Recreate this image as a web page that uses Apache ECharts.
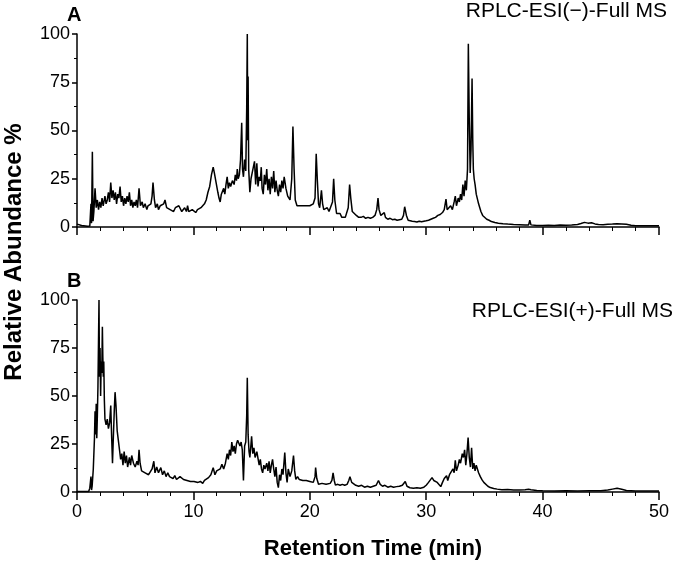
<!DOCTYPE html>
<html lang="en">
<head>
    <meta charset="UTF-8">
    <script src="https://cdn.jsdelivr.net/npm/echarts@6/dist/echarts.min.js"></script>
    <title>Chromatograms</title>
    <style>
        html, body { margin: 0; padding: 0; background: #fff; }
        #main { width: 676px; height: 577px; }
    </style>
</head>
<body>
<div id="main"></div>
<script>
    // panel A: RPLC-ESI(-) full MS, retention time (min) / relative abundance (%)
    var timeA = [0, 0.4, 0.9, 1.1, 1.2, 1.25, 1.32, 1.38, 1.45, 1.55, 1.65, 1.75, 1.85, 1.95, 2.05, 2.15, 2.25, 2.4, 2.5, 2.6,
        2.7, 2.8, 2.9, 3.0, 3.1, 3.2, 3.3, 3.4, 3.5, 3.6, 3.7, 3.8, 3.9, 4.0, 4.1, 4.2, 4.3, 4.4, 4.5, 4.6,
        4.7, 4.8, 4.9, 5.0, 5.1, 5.2, 5.33, 5.45, 5.6, 5.7, 5.85, 6.0, 6.1, 6.2, 6.35, 6.45, 6.53, 6.65, 6.75, 6.9,
        7.0, 7.15, 7.3, 7.45, 7.56, 7.7, 7.85, 8.0, 8.15, 8.3, 8.45, 8.6, 8.75, 8.9, 9.0, 9.1, 9.25, 9.4, 9.5, 9.6,
        9.75, 9.9, 10.05, 10.2, 10.35, 10.5, 10.65, 10.8, 10.95, 11.1, 11.25, 11.4, 11.55, 11.7, 11.8, 11.95, 12.1, 12.2, 12.3, 12.4,
        12.5, 12.6, 12.7, 12.8, 12.9, 13.0, 13.1, 13.2, 13.35, 13.5, 13.6, 13.7, 13.77, 13.85, 13.95, 14.05, 14.15, 14.22, 14.3, 14.4,
        14.5, 14.58, 14.63, 14.67, 14.7, 14.75, 14.85, 14.95, 15.05, 15.15, 15.25, 15.35, 15.45, 15.55, 15.65, 15.75, 15.83, 15.9, 16.0, 16.1,
        16.2, 16.3, 16.4, 16.5, 16.6, 16.7, 16.8, 16.9, 17.0, 17.1, 17.2, 17.3, 17.4, 17.5, 17.6, 17.7, 17.8, 17.87, 17.95, 18.1,
        18.3, 18.45, 18.55, 18.65, 18.75, 18.9, 19.0, 19.15, 19.3, 19.45, 19.6, 19.75, 19.9, 20.0, 20.15, 20.3, 20.45, 20.55, 20.65, 20.75,
        20.85, 21.0, 21.1, 21.2, 21.35, 21.5, 21.65, 21.8, 21.95, 22.05, 22.15, 22.3, 22.45, 22.6, 22.75, 22.9, 23.05, 23.2, 23.3, 23.42,
        23.52, 23.65, 23.8, 24.0, 24.2, 24.4, 24.6, 24.8, 25.0, 25.2, 25.4, 25.6, 25.75, 25.86, 25.95, 26.1, 26.25, 26.4, 26.5, 26.7,
        26.9, 27.1, 27.3, 27.5, 27.7, 27.9, 28.05, 28.15, 28.3, 28.45, 28.6, 28.8, 29.0, 29.2, 29.4, 29.6, 29.8, 30.0, 30.2, 30.4,
        30.6, 30.8, 31.0, 31.2, 31.4, 31.55, 31.7, 31.8, 31.95, 32.1, 32.25, 32.4, 32.5, 32.6, 32.75, 32.85, 32.95, 33.05, 33.15, 33.25,
        33.35, 33.45, 33.55, 33.62, 33.7, 33.78, 33.85, 33.94, 34.0, 34.05, 34.12, 34.2, 34.3, 34.4, 34.5, 34.6, 34.7, 34.85, 35.0, 35.2,
        35.4, 35.6, 35.9, 36.2, 36.6, 37.0, 37.5, 38.0, 38.5, 38.8, 38.9, 39.0, 39.5, 40.0, 40.5, 41.0, 41.5, 42.0, 42.5, 43.0,
        43.3, 43.6, 43.9, 44.2, 44.5, 44.8, 45.2, 45.6, 46.0, 46.4, 46.8, 47.2, 47.6, 48.0, 49.0, 50.0];
    var abundA = [1.5, 0.8, 0.4, 0.5, 12, 2, 39, 3, 8, 20, 10, 14, 9, 13, 10, 15, 11, 16, 12, 14,
        18, 13, 23, 15, 19, 14, 18, 12, 17, 15, 21, 13, 16, 11, 15, 12, 16, 13, 18, 11,
        14, 10, 13, 11, 14, 10, 20, 11, 13, 10, 12, 9, 11, 10, 12, 16, 23, 14, 10, 12,
        9, 11, 10, 12, 14, 10, 11, 9, 10, 8, 10, 9, 11, 12, 8, 7, 10, 8, 11, 8,
        7, 9, 8, 7.5, 9, 8, 10, 9, 12, 14, 18, 21, 27, 31, 28, 23, 18, 15, 13, 17,
        16, 20, 17, 22, 26, 20, 23, 21, 24, 22, 27, 24, 30, 25, 27, 35, 54, 30, 26, 35,
        29, 62, 100, 45, 78, 30, 18, 25, 28, 31, 34, 22, 33, 21, 26, 24, 31, 20, 17, 27,
        22, 30, 19, 25, 17, 26, 20, 29, 18, 24, 19, 16, 22, 18, 24, 20, 26, 27, 20, 16,
        14, 25, 52, 30, 14, 11, 12, 11, 10, 11, 10, 11, 10, 11, 10, 12, 15, 38, 24, 12,
        10, 19, 12, 9, 8, 10, 8, 7, 13, 25, 14, 7, 6, 7, 5, 6, 5, 6, 10, 22,
        15, 8, 7, 6, 5, 5, 5.5, 4.5, 5, 4.5, 5, 6, 9, 15, 9, 6, 5, 7.4, 5, 4,
        4.5, 3.8, 4, 3.5, 3.8, 4, 6, 10.5, 6, 3.5, 3, 3, 2.8, 2.6, 3, 2.7, 3, 3.2, 3.5, 4,
        4.5, 5, 6, 6.5, 7.5, 9, 14.5, 9, 10, 11, 9, 13, 16, 11, 15, 13, 17, 14, 22, 16,
        24, 19, 30, 95, 55, 28, 40, 77, 45, 30, 25, 22, 17, 18, 12, 13, 8, 6, 5, 4,
        3.5, 2.8, 2.3, 2, 1.7, 1.5, 1.3, 1.2, 1.0, 1.1, 3.5, 1.1, 0.8, 0.8, 0.9, 0.8, 1.0, 0.9, 1.0, 1.3,
        1.8, 2.4, 2.0, 2.2, 1.6, 1.3, 1.2, 1.4, 1.5, 1.7, 1.6, 1.4, 0.9, 0.7, 0.7, 0.7];

    // panel B: RPLC-ESI(+) full MS
    var timeB = [0, 0.5, 1.0, 1.1, 1.2, 1.25, 1.3, 1.4, 1.5, 1.55, 1.6, 1.65, 1.7, 1.75, 1.8, 1.85, 1.89, 1.93, 1.98, 2.03,
        2.08, 2.13, 2.18, 2.22, 2.26, 2.3, 2.35, 2.4, 2.5, 2.6, 2.7, 2.8, 2.9, 2.97, 3.05, 3.12, 3.2, 3.27, 3.35, 3.45,
        3.55, 3.65, 3.75, 3.85, 3.95, 4.05, 4.15, 4.25, 4.35, 4.5, 4.6, 4.7, 4.85, 5.0, 5.15, 5.25, 5.33, 5.42, 5.55, 5.7,
        5.85, 6.0, 6.15, 6.3, 6.45, 6.6, 6.7, 6.85, 7.0, 7.2, 7.35, 7.5, 7.65, 7.8, 7.95, 8.1, 8.25, 8.4, 8.55, 8.7,
        8.85, 9.0, 9.15, 9.3, 9.45, 9.6, 9.75, 9.9, 10.05, 10.2, 10.4, 10.6, 10.8, 10.95, 11.1, 11.3, 11.5, 11.7, 11.85, 12.0,
        12.15, 12.3, 12.45, 12.6, 12.75, 12.9, 13.0, 13.1, 13.2, 13.3, 13.4, 13.5, 13.6, 13.7, 13.8, 13.9, 14.0, 14.1, 14.2, 14.3,
        14.4, 14.5, 14.58, 14.63, 14.7, 14.78, 14.85, 14.95, 15.0, 15.1, 15.2, 15.3, 15.45, 15.55, 15.65, 15.75, 15.85, 15.95, 16.05, 16.15,
        16.3, 16.4, 16.5, 16.6, 16.7, 16.8, 16.9, 17.0, 17.1, 17.2, 17.3, 17.4, 17.5, 17.6, 17.7, 17.85, 17.95, 18.05, 18.15, 18.3,
        18.45, 18.6, 18.7, 18.8, 18.95, 19.1, 19.25, 19.4, 19.55, 19.7, 19.85, 20.0, 20.15, 20.3, 20.45, 20.5, 20.6, 20.75, 20.9, 21.05,
        21.2, 21.4, 21.55, 21.75, 21.9, 22.0, 22.1, 22.2, 22.4, 22.6, 22.8, 23.0, 23.2, 23.35, 23.45, 23.6, 23.75, 23.95, 24.2, 24.45,
        24.7, 24.95, 25.2, 25.45, 25.7, 25.9, 26.05, 26.25, 26.45, 26.7, 26.95, 27.2, 27.45, 27.7, 27.95, 28.2, 28.35, 28.6, 28.9, 29.2,
        29.5, 29.8, 30.0, 30.2, 30.35, 30.5, 30.65, 30.8, 30.95, 31.1, 31.25, 31.4, 31.55, 31.75, 31.85, 32.0, 32.15, 32.3, 32.4, 32.5,
        32.6, 32.75, 32.85, 32.95, 33.1, 33.2, 33.3, 33.4, 33.5, 33.6, 33.7, 33.8, 33.9, 34.0, 34.1, 34.2, 34.3, 34.4, 34.5, 34.65,
        34.8, 34.95, 35.1, 35.3, 35.5, 35.8, 36.1, 36.5, 37.0, 37.5, 38.0, 38.5, 38.8, 38.9, 39.0, 39.5, 40.0, 41.0, 42.0, 43.0,
        44.0, 45.0, 45.6, 46.0, 46.4, 46.8, 47.2, 48.0, 49.0, 50.0];
    var abundB = [0.3, 0.3, 0.3, 2, 8, 1, 3, 12, 28, 42, 30, 46, 28, 40, 55, 80, 100, 60, 75, 50,
        68, 62, 86, 70, 60, 68, 48, 38, 35, 38, 33, 36, 45, 30, 15, 28, 42, 52, 45, 32,
        27, 22, 17, 20, 14, 21, 15, 19, 13, 18, 14, 19, 15, 13, 16, 14, 22, 15, 11, 12,
        10, 11, 9, 8, 12, 16, 10, 13, 10, 12.7, 9, 11, 8, 10, 8, 9, 7, 8.5, 6.5, 7.5,
        8, 9, 6.5, 7.5, 6, 7, 5.5, 6.5, 5.5, 6, 5, 5.5, 4.5, 6, 5.5, 7.5, 9, 12.7, 9, 11,
        10, 12, 14.5, 12, 15, 20, 17, 22, 19, 26, 21, 24, 20, 25, 27, 28, 24, 26, 22, 6,
        24, 26, 40, 59.5, 30, 21, 18, 25, 29, 20, 23, 18, 21, 20, 14, 17, 12, 10, 14, 12,
        15, 11, 16, 10, 14, 17, 12, 8, 13, 5, 2.3, 9, 6, 12, 9, 20.5, 10, 5, 12, 8,
        11, 19, 11, 6.6, 8, 6.5, 7.5, 6, 7, 6, 7, 5.5, 6, 5, 8, 12.7, 7, 4, 5, 4.5,
        5.5, 4, 5, 4.5, 6, 10, 6, 3.6, 4, 3.5, 4, 3.5, 4, 6, 8, 5, 4, 3.5, 3, 3.5,
        2.5, 3, 2.5, 3, 3.5, 6, 4, 3, 3.5, 2.5, 3, 2.5, 2.8, 3, 3.5, 5.5, 3, 2.2, 2, 2.2,
        2, 2.5, 3.5, 5, 6, 7.5, 6, 6.5, 5, 4, 2.8, 5, 7, 8.5, 6, 9, 8, 12, 10, 16.5,
        11, 14, 17, 15, 20, 18, 22, 14, 20, 28.3, 18, 13, 23, 12, 15, 11, 14, 13.5, 10, 8,
        6.3, 5, 4, 3, 2.3, 1.8, 1.5, 1.2, 1.3, 1.1, 1.0, 1.2, 1.4, 2.2, 1.2, 0.8, 0.6, 0.5, 0.6, 0.5,
        0.6, 0.7, 1.0, 1.5, 1.9, 1.4, 0.8, 0.5, 0.5, 0.5];

    var yTicks = [0, 25, 50, 75, 100];
    var xTicks = [0, 10, 20, 30, 40, 50];

    function pairs(t, v) {
        var out = [];
        for (var i = 0; i < t.length; i++) out.push([t[i], v[i]]);
        return out;
    }

    var fontName = '"Liberation Sans", Arial, sans-serif';

    function xAx(idx, showLabels) {
        return {
            type: 'value', gridIndex: idx,
            min: xTicks[0], max: xTicks[xTicks.length - 1], interval: 10,
            axisLine: { lineStyle: { color: '#000', width: 1.5 } },
            axisTick: { show: true, length: 8, inside: false, lineStyle: { color: '#000', width: 1.5 } },
            minorTick: { show: true, splitNumber: 5, length: 4, lineStyle: { color: '#000', width: 1 } },
            splitLine: { show: false },
            axisLabel: { show: showLabels, color: '#000', fontSize: 18, fontFamily: fontName, margin: 11 }
        };
    }

    function yAx(idx) {
        return {
            type: 'value', gridIndex: idx,
            min: yTicks[0], max: yTicks[yTicks.length - 1], interval: 25,
            axisLine: { show: true, lineStyle: { color: '#000', width: 1.5 } },
            axisTick: { show: true, length: 5, lineStyle: { color: '#000', width: 1.5 } },
            minorTick: { show: true, splitNumber: 2, length: 3, lineStyle: { color: '#000', width: 1 } },
            splitLine: { show: false },
            axisLabel: { color: '#000', fontSize: 18, fontFamily: fontName, margin: 7 }
        };
    }

    function trace(idx, data) {
        return {
            type: 'line', xAxisIndex: idx, yAxisIndex: idx,
            data: data, showSymbol: false, symbol: 'none',
            lineStyle: { color: '#000', width: 1.5 },
            clip: true
        };
    }

    var myChart = echarts.init(document.getElementById('main'), null, { renderer: 'canvas' });

    var option = {
        animation: false,
        backgroundColor: '#fff',
        grid: [
            { left: 77, width: 582, top: 34, height: 193 },
            { left: 77, width: 582, top: 300, height: 192 }
        ],
        xAxis: [xAx(0, false), xAx(1, true)],
        yAxis: [yAx(0), yAx(1)],
        series: [trace(0, pairs(timeA, abundA)), trace(1, pairs(timeB, abundB))],
        graphic: [
            { type: 'text', x: 67, y: 5, style: { text: 'A', font: 'bold 20px ' + fontName, fill: '#000' } },
            { type: 'text', x: 67, y: 271, style: { text: 'B', font: 'bold 20px ' + fontName, fill: '#000' } },
            { type: 'text', x: 667, y: 1, style: { text: 'RPLC-ESI(\u2212)-Full MS', font: '21px ' + fontName, fill: '#000', textAlign: 'right' } },
            { type: 'text', x: 673, y: 301, style: { text: 'RPLC-ESI(+)-Full MS', font: '21px ' + fontName, fill: '#000', textAlign: 'right' } },
            { type: 'text', x: 14, y: 252, rotation: Math.PI / 2,
              style: { text: 'Relative Abundance %', font: 'bold 24px ' + fontName, fill: '#000', textAlign: 'center', textVerticalAlign: 'middle' } },
            { type: 'text', x: 373, y: 549,
              style: { text: 'Retention Time (min)', font: 'bold 22px ' + fontName, fill: '#000', textAlign: 'center', textVerticalAlign: 'middle' } }
        ]
    };

    myChart.setOption(option);
</script>
</body>
</html>
